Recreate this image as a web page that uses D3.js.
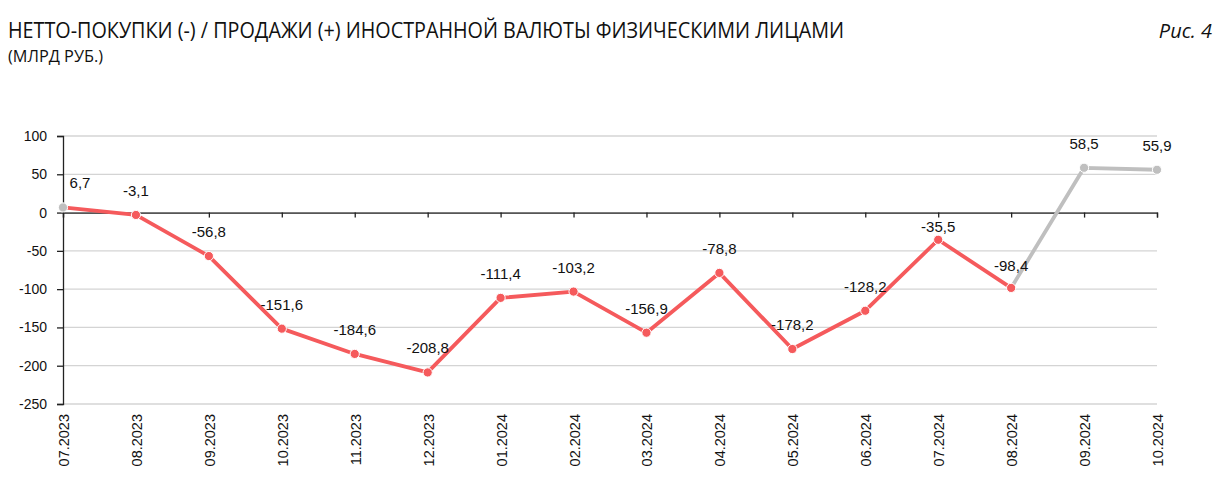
<!DOCTYPE html>
<html>
<head>
<meta charset="utf-8">
<script src="https://cdn.jsdelivr.net/npm/d3@7"></script>
<style>
  body { margin: 0; background: #fff; }
  svg { display: block; }
</style>
</head>
<body>
<div id="chart"></div>
<script>
var months = ['07.2023', '08.2023', '09.2023', '10.2023', '11.2023', '12.2023',
    '01.2024', '02.2024', '03.2024', '04.2024', '05.2024', '06.2024',
    '07.2024', '08.2024', '09.2024', '10.2024']
var values = [6.7, -3.1, -56.8, -151.6, -184.6, -208.8, -111.4, -103.2,
    -156.9, -78.8, -178.2, -128.2, -35.5, -98.4, 58.5, 55.9]
// grey = first point and the last two months
var greyPoints = ['07.2023', '09.2024', '10.2024']
var yTicks = [100, 50, 0, -50, -100, -150, -200, -250]

var svgWidth = 1217,
    svgHeight = 486
var red = '#f55a5c',
    grey = '#bfbfbf'

var svg = d3.select('#chart').append('svg')
    .attr('width', svgWidth)
    .attr('height', svgHeight)

// titles
svg.append('text')
    .attr('x', 8).attr('y', 38)
    .attr('font-family', '"Open Sans", sans-serif')
    .attr('font-size', 21)
    .attr('textLength', 836)
    .attr('lengthAdjust', 'spacingAndGlyphs')
    .attr('fill', '#111')
    .text('НЕТТО-ПОКУПКИ (-) / ПРОДАЖИ (+) ИНОСТРАННОЙ ВАЛЮТЫ ФИЗИЧЕСКИМИ ЛИЦАМИ')
svg.append('text')
    .attr('x', 8).attr('y', 62)
    .attr('font-family', '"Open Sans", sans-serif')
    .attr('font-size', 16)
    .attr('textLength', 95)
    .attr('lengthAdjust', 'spacingAndGlyphs')
    .attr('fill', '#111')
    .text('(МЛРД РУБ.)')
svg.append('text')
    .attr('x', 1212).attr('y', 38)
    .attr('text-anchor', 'end')
    .attr('font-family', '"Open Sans", sans-serif')
    .attr('font-style', 'italic')
    .attr('font-size', 20)
    .attr('fill', '#111')
    .text('Рис. 4')

var plotLeft = 63, plotRight = 1157, plotTop = 136, plotBottom = 404

var x = d3.scalePoint().domain(months).range([plotLeft, plotRight]).padding(0)
var y = d3.scaleLinear().domain([-250, 100]).range([plotBottom, plotTop])

// gridlines
svg.append('g').selectAll('line')
    .data(yTicks)
    .join('line')
    .attr('x1', plotLeft).attr('x2', plotRight)
    .attr('y1', d => y(d)).attr('y2', d => y(d))
    .attr('stroke', '#d4d4d4')
    .attr('stroke-width', 1.3)

// y axis
var yAxis = svg.append('g')
    .attr('transform', 'translate(' + plotLeft + ',0)')
    .call(d3.axisLeft(y).tickValues(yTicks).tickSize(6).tickPadding(10).tickFormat(d3.format('d')))
yAxis.select('.domain').attr('stroke', '#222').attr('stroke-width', 1.3)
yAxis.selectAll('.tick line').attr('stroke', '#222').attr('stroke-width', 1.3)
yAxis.selectAll('text')
    .attr('font-family', '"Liberation Sans", Arial, sans-serif')
    .attr('font-size', 14)
    .attr('fill', '#111')
    .text(d => d < 0 ? '-' + Math.abs(d) : d)

// x axis on the zero line
var xAxis = svg.append('g')
    .attr('transform', 'translate(0,' + y(0) + ')')
    .call(d3.axisBottom(x).tickSize(5).tickFormat(''))
xAxis.select('.domain').attr('stroke', '#222').attr('stroke-width', 1.3)
xAxis.selectAll('.tick line').attr('stroke', '#222').attr('stroke-width', 1.3)

// month labels at the bottom, rotated
svg.append('g').selectAll('text')
    .data(months)
    .join('text')
    .attr('transform', d => 'translate(' + (x(d) + 6) + ',' + (plotBottom + 10) + ') rotate(-90)')
    .attr('text-anchor', 'end')
    .attr('font-family', '"Liberation Sans", Arial, sans-serif')
    .attr('font-size', 14.5)
    .attr('fill', '#111')
    .text(d => d)

var points = months.map((m, i) => ({ m: m, v: values[i], i: i }))
var line = d3.line().x(d => x(d.m)).y(d => y(d.v))

// red part up to 08.2024, grey part after it
svg.append('path')
    .datum(points.slice(0, 14))
    .attr('d', line)
    .attr('fill', 'none')
    .attr('stroke', red)
    .attr('stroke-width', 3.8)
    .attr('stroke-linejoin', 'round')
svg.append('path')
    .datum(points.slice(13))
    .attr('d', line)
    .attr('fill', 'none')
    .attr('stroke', grey)
    .attr('stroke-width', 3.8)
    .attr('stroke-linejoin', 'round')

svg.append('g').selectAll('circle')
    .data(points)
    .join('circle')
    .attr('cx', d => x(d.m))
    .attr('cy', d => y(d.v))
    .attr('r', 4.6)
    .attr('fill', d => greyPoints.includes(d.m) ? grey : red)
    .attr('stroke', '#fff')
    .attr('stroke-width', 1)

// value labels; the 07.2024 one sits lower (close to its point), the first one is pushed right
function labelDy(d) {
    if (d.m === '07.2024') return 8
    if (d.m === '08.2024') return 17
    return 19
}
svg.append('g').selectAll('text')
    .data(points)
    .join('text')
    .attr('x', d => x(d.m) + (d.i === 0 ? 17 : 0))
    .attr('y', d => y(d.v) - labelDy(d))
    .attr('text-anchor', 'middle')
    .attr('font-family', '"Liberation Sans", Arial, sans-serif')
    .attr('font-size', 15)
    .attr('fill', '#111')
    .text(d => String(d.v).replace('.', ','))
</script>
</body>
</html>
